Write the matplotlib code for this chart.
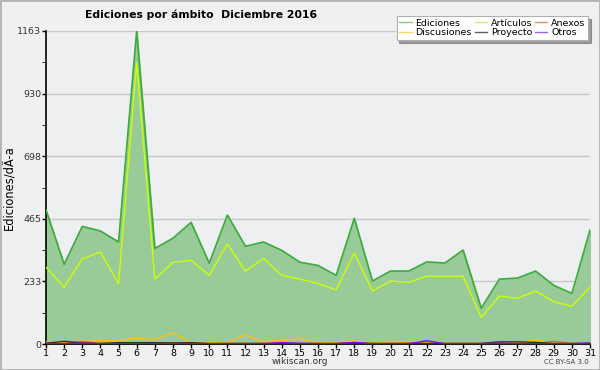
import numpy as np
import matplotlib
matplotlib.use('Agg')
import matplotlib.pyplot as plt
from matplotlib.lines import Line2D
from matplotlib.patches import Rectangle

# datos diarios
dias = list(range(1, 32))
ediciones = [498, 296, 437, 420, 379, 1163, 355, 393, 452, 300, 479, 363, 379, 348, 304,
             292, 255, 467, 234, 271, 271, 305, 301, 349, 133, 241, 245, 271, 218, 188, 424]
articulos = [285, 211, 316, 342, 224, 1045, 241, 303, 311, 255, 372, 271, 318, 255, 241,
             225, 201, 338, 197, 234, 229, 252, 252, 252, 99, 178, 170, 197, 157, 140, 212]
discusiones = [8, 5, 10, 12, 12, 22, 16, 41, 5, 6, 4, 34, 8, 14, 18,
               6, 6, 12, 3, 8, 8, 4, 2, 2, 2, 6, 4, 16, 3, 2, 2]
anexos = [2, 3, 9, 3, 2, 3, 3, 3, 2, 2, 2, 2, 2, 2, 2,
          2, 2, 5, 2, 2, 3, 2, 2, 2, 2, 3, 2, 2, 10, 2, 2]
proyecto = [3, 10, 4, 2, 5, 5, 5, 4, 5, 2, 2, 2, 2, 2, 2,
            2, 2, 3, 2, 2, 2, 2, 2, 2, 2, 8, 8, 6, 2, 2, 2]
otros = [1, 1, 3, 1, 1, 1, 1, 1, 1, 1, 1, 1, 1, 5, 2,
         1, 1, 6, 1, 1, 1, 12, 1, 1, 1, 3, 1, 1, 1, 1, 4]

yticks = [0, 233, 465, 698, 930, 1163]

fig = plt.figure(figsize=(6, 3.7), dpi=100, facecolor='#f0f0f0')
fig.patches.append(Rectangle((0, 0), 1, 1, transform=fig.transFigure, fill=False,
                             edgecolor='#b4b4b4', linewidth=2))
ax = fig.add_axes([46/600, 1 - 344/370, 544/600, 313/370])
ax.set_facecolor('#eeeff0')

ax.fill_between(dias, ediciones, color='#99cb99', zorder=2)
ax.plot(dias, ediciones, color='#3cac3c', lw=1.2, zorder=3)
ax.plot(dias, articulos, color='#ccff00', lw=1.0, zorder=3)
ax.plot(dias, discusiones, color='#ffc010', lw=1.0, zorder=4)
ax.plot(dias, anexos, color='#ff5a20', lw=1.0, zorder=4)
ax.plot(dias, proyecto, color='#303030', lw=1.0, zorder=4)
ax.plot(dias, otros, color='#8000ff', lw=1.0, zorder=4)

ax.set_xlim(1, 31)
ax.set_ylim(0, 1163)
ax.set_xticks(dias)
ax.set_xticklabels([str(d) for d in dias], fontsize=6.8)
ax.set_yticks(yticks)
ax.set_yticklabels([str(v) for v in yticks], fontsize=6.8, color='#333333')
ax.set_yticks([(yticks[i] + yticks[i+1]) / 2 for i in range(5)], minor=True)
ax.tick_params(axis='both', length=3, width=1, pad=0.5)
ax.tick_params(axis='y', which='minor', length=3)
ax.grid(axis='y', color='#c8c8c8', lw=1, zorder=1)
ax.set_axisbelow(True)
for s in ['top', 'right']:
    ax.spines[s].set_visible(False)
ax.spines['left'].set_linewidth(1.2)
ax.spines['bottom'].set_linewidth(1.2)
ax.set_ylabel('Ediciones/dÃ-a', fontsize=8.3)
ax.yaxis.set_label_coords(-30/544, 0.5)

fig.text(85/600, 1 - 15/370, 'Ediciones por ámbito  Diciembre 2016', fontsize=7.8,
         fontweight='bold', va='center', ha='left')
fig.text(300/600, 1 - 362/370, 'wikiscan.org', fontsize=6.5, ha='center', va='center', color='#333333')
fig.text(589/600, 1 - 362/370, 'CC BY-SA 3.0', fontsize=5, ha='right', va='center', color='#444444')

# leyenda
nombres = ['Ediciones', 'Discusiones', 'Artículos', 'Proyecto', 'Anexos', 'Otros']
colores = ['#80d080', '#f8d860', '#d0f060', '#606060', '#f09060', '#a060f0']
handles = [Line2D([], [], color=c, lw=1) for c in colores]
leg = fig.legend(handles, nombres, ncol=3, loc='upper right', bbox_to_anchor=(593/600, 1 - 11/370),
                 fontsize=6.8, frameon=True, fancybox=False, shadow=True, handlelength=1.3,
                 handletextpad=0.4, columnspacing=0.3, labelspacing=0.05, borderpad=0.3)
leg.get_frame().set_edgecolor('#b0b0b0')
leg.get_frame().set_linewidth(0.8)

fig.savefig('out.png', dpi=100, facecolor=fig.get_facecolor())
